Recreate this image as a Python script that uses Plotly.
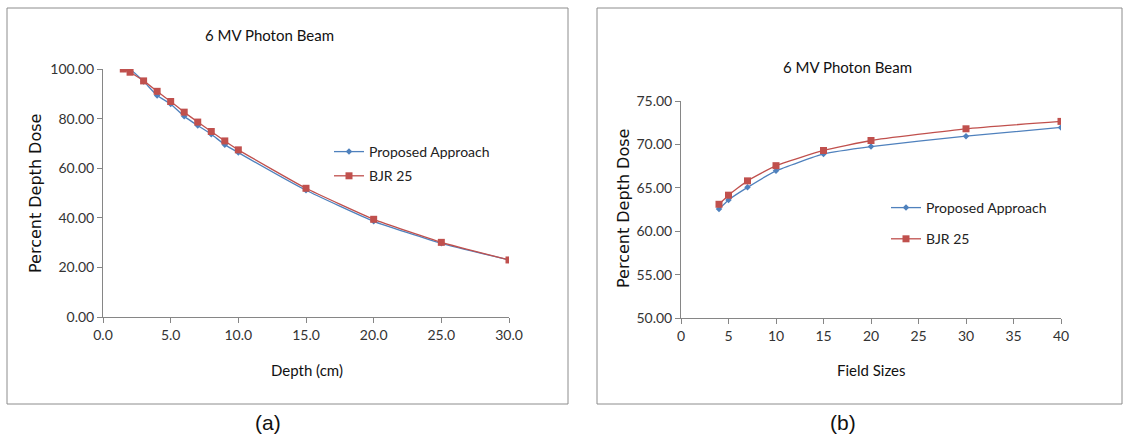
import plotly.graph_objects as go

# ---- Data: panel (a) ----
depth_cm = [1.5, 2, 3, 4, 5, 6, 7, 8, 9, 10, 15, 20, 25, 30]
pdd_proposed_a = [100.0, 99.8, 95.0, 89.3, 85.9, 80.9, 77.2, 73.7, 69.5, 66.3, 51.1, 38.6, 29.7, 23.0]
pdd_bjr_a = [100.0, 98.7, 95.2, 91.0, 86.9, 82.6, 78.6, 74.8, 71.0, 67.4, 51.9, 39.4, 30.1, 23.0]

# ---- Data: panel (b) ----
field_sizes = [4, 5, 7, 10, 15, 20, 30, 40]
pdd_proposed_b = [62.55, 63.6, 65.05, 66.95, 68.9, 69.75, 70.95, 71.95]
pdd_bjr_b = [63.1, 64.15, 65.8, 67.55, 69.3, 70.45, 71.8, 72.65]

series_names = ["Proposed Approach", "BJR 25"]
chart_title = "6 MV Photon Beam"

W, H = 1128, 436
BLUE = "#4F81BD"
RED = "#C0504D"
AX = "#868686"
FONT = "Lato, Calibri, Carlito, sans-serif"


def px(x):
    return x / W


def py(y):
    return 1 - y / H


fig = go.Figure()

fig.add_trace(go.Scatter(x=depth_cm, y=pdd_proposed_a, name=series_names[0], mode="lines+markers",
                         line=dict(color=BLUE, width=1.3, shape="spline", smoothing=0.4),
                         marker=dict(symbol="diamond", size=5, color=BLUE),
                         xaxis="x", yaxis="y", legend="legend", legendgroup="a1"))
fig.add_trace(go.Scatter(x=depth_cm, y=pdd_bjr_a, name=series_names[1], mode="lines+markers",
                         line=dict(color=RED, width=1.3, shape="spline", smoothing=0.4),
                         marker=dict(symbol="square", size=7, color=RED),
                         xaxis="x", yaxis="y", legend="legend", legendgroup="a2"))
fig.add_trace(go.Scatter(x=field_sizes, y=pdd_proposed_b, name=series_names[0], mode="lines+markers",
                         line=dict(color=BLUE, width=1.3, shape="spline", smoothing=0.4),
                         marker=dict(symbol="diamond", size=5, color=BLUE),
                         xaxis="x2", yaxis="y2", legend="legend2", legendgroup="b1"))
fig.add_trace(go.Scatter(x=field_sizes, y=pdd_bjr_b, name=series_names[1], mode="lines+markers",
                         line=dict(color=RED, width=1.3, shape="spline", smoothing=0.4),
                         marker=dict(symbol="square", size=7, color=RED),
                         xaxis="x2", yaxis="y2", legend="legend2", legendgroup="b2"))

axis_common = dict(showline=True, linecolor=AX, linewidth=1, ticks="outside", ticklen=5,
                   tickcolor=AX, showgrid=False, zeroline=False, automargin=False,
                   tickfont=dict(family=FONT, size=14, color="#333333"))

fig.update_layout(
    width=W, height=H,
    margin=dict(l=0, r=0, t=0, b=0, pad=0, autoexpand=False),
    paper_bgcolor="white", plot_bgcolor="white",
    xaxis=dict(domain=[px(103), px(509)], range=[0, 30], dtick=5, tickformat=".1f",
               anchor="y", **axis_common),
    yaxis=dict(domain=[py(317), py(69)], range=[0, 100], dtick=20, tickformat=".2f",
               anchor="x", **axis_common),
    xaxis2=dict(domain=[px(681), px(1061)], range=[0, 40], dtick=5, tickformat="d",
                anchor="y2", **axis_common),
    yaxis2=dict(domain=[py(318), py(101)], range=[50, 75], dtick=5, tickformat=".2f",
                anchor="x2", **axis_common),
    legend=dict(x=px(329), y=py(136), xanchor="left", yanchor="top", bgcolor="rgba(0,0,0,0)",
                font=dict(family=FONT, size=14, color="#222222"), traceorder="grouped",
                tracegroupgap=3, itemwidth=30),
    legend2=dict(x=px(886), y=py(192), xanchor="left", yanchor="top", bgcolor="rgba(0,0,0,0)",
                 font=dict(family=FONT, size=14, color="#222222"), traceorder="grouped",
                 tracegroupgap=10, itemwidth=30),
    showlegend=True,
)

# Panel borders
for x0, x1 in [(7, 568), (597, 1122)]:
    fig.add_shape(type="rect", xref="paper", yref="paper", x0=px(x0), x1=px(x1), y0=py(404), y1=py(8),
                  line=dict(color="#8c8c8c", width=1), fillcolor="rgba(0,0,0,0)", layer="below")

ann = [
    (chart_title, 269, 35, 15, 0, FONT),
    (chart_title, 847, 67, 15, 0, FONT),
    ("Depth (cm)", 307, 370, 15, 0, FONT),
    ("Field Sizes", 871, 370, 15, 0, FONT),
    ("Percent Depth Dose", 35, 194, 16, -90, "DejaVu Sans, Verdana, sans-serif"),
    ("Percent Depth Dose", 624, 209, 16, -90, "DejaVu Sans, Verdana, sans-serif"),
    ("(a)", 268, 422, 21, 0, "Liberation Sans, Arial, sans-serif"),
    ("(b)", 843, 422, 21, 0, "Liberation Sans, Arial, sans-serif"),
]
for text, x, y, size, ang, fam in ann:
    fig.add_annotation(text=text, x=px(x), y=py(y), xref="paper", yref="paper", showarrow=False,
                       xanchor="center", yanchor="middle", textangle=ang,
                       font=dict(family=fam, size=size, color="#111111"))

fig.write_html("out.html", config={"displayModeBar": False},
               post_script="document.body.style.margin='0';document.body.style.overflow='hidden';")
